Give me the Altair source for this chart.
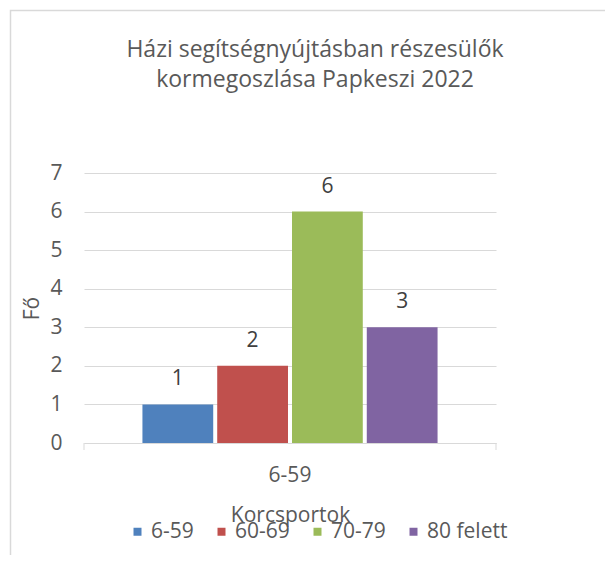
import altair as alt
import pandas as pd

category = ["6-59"]
series = ["6-59", "60-69", "70-79", "80 felett"]
values = [1, 2, 6, 3]
colors = ["#4F81BD", "#C0504D", "#9BBB59", "#8064A2"]
y_ticks = [0, 1, 2, 3, 4, 5, 6, 7]
title_lines = ["Házi segítségnyújtásban részesülők", "kormegoszlása Papkeszi 2022"]

df = pd.DataFrame({
    "Korcsoport": category * len(series),
    "Sorozat": series,
    "Fő": values,
})

FONT = "Open Sans"
TXT = "#595959"
GRID = "#d9d9d9"
FS = 21

x_enc = alt.X(
    "Korcsoport:N",
    title="Korcsportok",
    scale=alt.Scale(paddingInner=0, paddingOuter=0.198),
    axis=alt.Axis(
        labelAngle=0, labelFontSize=FS, labelColor=TXT, labelFont=FONT,
        labelPadding=21, ticks=False, domainColor=GRID, domainWidth=1,
        titleFontSize=FS, titleFont=FONT, titleColor=TXT, titleFontWeight="normal",
        titleY=78, titleBaseline="alphabetic",
    ),
)
y_enc = alt.Y(
    "Fő:Q",
    title="Fő",
    scale=alt.Scale(domain=[0, 7], nice=False),
    axis=alt.Axis(
        values=y_ticks, labelFontSize=FS, labelColor=TXT, labelFont=FONT,
        labelPadding=22, ticks=False, domain=False, gridColor=GRID, gridWidth=1,
        titleFontSize=FS, titleFont=FONT, titleColor=TXT, titleFontWeight="normal",
        titleAngle=270, titleX=-46, titleY=135, titleAlign="center",
        titleBaseline="alphabetic",
    ),
)
xoff = alt.XOffset("Sorozat:N", sort=series,
                   scale=alt.Scale(paddingInner=0.0535, paddingOuter=0))

base = alt.Chart(df)

bars = base.mark_bar().encode(
    x=x_enc,
    xOffset=xoff,
    y=y_enc,
    color=alt.Color(
        "Sorozat:N", sort=series,
        scale=alt.Scale(domain=series, range=colors),
        legend=alt.Legend(
            title=None, orient="none", legendX=43, legendY=348,
            direction="horizontal", symbolType="square", symbolSize=64,
            symbolStrokeWidth=0, labelFontSize=FS, labelFont=FONT,
            labelColor=TXT, columnPadding=17, labelOffset=3, padding=0,
        ),
    ),
)

labels = base.mark_text(
    baseline="alphabetic", dy=-19, fontSize=FS, font=FONT, color="#404040"
).encode(x=x_enc, xOffset=xoff, y=y_enc, text="Fő:Q")

one = alt.Data(values=[{}])
tick_left = alt.Chart(one).mark_rule(color=GRID, strokeWidth=1).encode(
    x=alt.value(0), y=alt.value(270), y2=alt.value(277)
)
tick_right = alt.Chart(one).mark_rule(color=GRID, strokeWidth=1).encode(
    x=alt.value(412), y=alt.value(270), y2=alt.value(277)
)

frame = alt.Chart(one).mark_rect(
    fillOpacity=0, stroke=GRID, strokeWidth=1.5
).encode(
    x=alt.value(-73.5), x2=alt.value(540), y=alt.value(-162.5), y2=alt.value(430)
)

title = alt.Chart(one).mark_text(
    text=title_lines, fontSize=23, font=FONT, color=TXT, align="center",
    baseline="alphabetic", lineHeight=30,
).encode(x=alt.value(231), y=alt.value(-116))

chart = alt.layer(frame, title, bars, labels, tick_left, tick_right).properties(
    width=412, height=270,
    autosize=alt.AutoSizeParams(type="none"),
    padding={"left": 76, "top": 165, "right": 109, "bottom": 112},
).configure_view(stroke=None)

chart.save("out.html", embed_options={"renderer": "svg", "actions": False})
